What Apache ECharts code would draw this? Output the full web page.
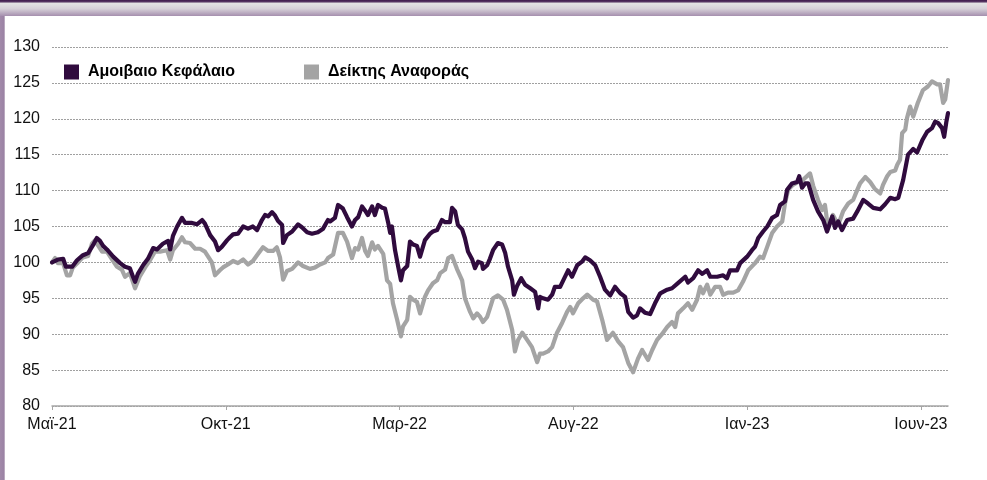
<!DOCTYPE html>
<html>
<head>
<meta charset="utf-8">
<script src="https://cdn.jsdelivr.net/npm/echarts@6/dist/echarts.min.js"></script>
<style>
html,body{margin:0;padding:0;background:#fff;}
#chart{width:987px;height:480px;}
</style>
</head>
<body>
<div id="chart"></div>
<script>
// x values: months elapsed since start of May 2021
const tickLabels = ['Μαϊ-21','Οκτ-21','Μαρ-22','Αυγ-22','Ιαν-23','Ιουν-23'];
const fundName = 'Αμοιβαιο Κεφάλαιο';
const benchName = 'Δείκτης Αναφοράς';

const fundT = [0.00,0.17,0.32,0.40,0.58,0.72,0.89,1.04,1.18,1.29,1.38,1.47,1.58,1.76,1.96,2.10,2.24,2.33,2.39,2.47,2.62,2.76,2.91,3.02,3.19,3.34,3.40,3.48,3.60,3.74,3.83,4.03,4.17,4.32,4.40,4.55,4.69,4.78,4.89,5.04,5.12,5.21,5.35,5.50,5.64,5.78,5.90,6.04,6.13,6.22,6.33,6.42,6.50,6.62,6.65,6.76,6.91,7.08,7.19,7.34,7.48,7.65,7.80,7.94,8.00,8.14,8.23,8.37,8.49,8.63,8.72,8.81,8.92,9.01,9.09,9.21,9.29,9.38,9.50,9.58,9.67,9.73,9.78,9.87,9.96,10.04,10.10,10.22,10.30,10.39,10.50,10.59,10.73,10.88,10.96,11.08,11.22,11.31,11.45,11.51,11.60,11.68,11.80,11.88,11.97,12.09,12.17,12.26,12.37,12.40,12.52,12.60,12.69,12.83,12.95,13.04,13.12,13.24,13.29,13.38,13.50,13.61,13.76,13.90,13.99,14.04,14.13,14.27,14.39,14.47,14.62,14.71,14.85,14.96,15.11,15.25,15.34,15.48,15.63,15.77,15.91,16.06,16.20,16.35,16.49,16.58,16.72,16.83,16.92,17.06,17.21,17.35,17.50,17.70,17.84,18.01,18.22,18.30,18.45,18.59,18.71,18.85,18.94,19.14,19.31,19.42,19.51,19.71,19.80,20.00,20.14,20.23,20.32,20.46,20.58,20.72,20.86,20.95,21.09,21.15,21.29,21.44,21.50,21.58,21.67,21.76,21.90,22.04,22.19,22.30,22.45,22.53,22.62,22.73,22.88,23.05,23.17,23.34,23.48,23.63,23.83,23.97,24.12,24.26,24.35,24.49,24.63,24.78,24.89,25.04,25.18,25.32,25.41,25.50,25.61,25.67,25.73,25.78];
const fundV = [100.0,100.4,100.5,99.4,99.4,100.3,101.0,101.3,102.4,103.4,103.0,102.3,101.8,100.8,99.9,99.4,99.2,98.0,97.3,98.4,99.6,100.5,102.0,101.8,102.6,103.0,101.8,103.7,105.0,106.2,105.5,105.5,105.3,105.9,105.4,103.8,102.9,101.7,102.2,103.1,103.5,103.9,104.0,105.0,104.7,105.0,104.5,105.9,106.6,106.4,107.0,106.5,105.8,105.2,102.7,103.8,104.3,105.3,104.9,104.2,104.0,104.2,104.7,105.9,105.7,106.2,108.0,107.5,106.3,105.0,105.9,106.3,107.8,107.2,106.6,107.8,106.6,108.0,107.6,107.5,105.6,104.1,105.0,101.7,99.4,97.5,98.9,99.5,102.9,102.5,102.3,100.8,103.1,104.0,104.3,104.5,105.9,105.6,105.6,107.6,107.1,105.2,104.6,103.4,101.5,100.4,99.2,100.1,99.9,99.1,99.6,100.5,101.7,102.7,102.5,101.3,99.4,97.5,95.5,96.7,97.8,96.9,96.4,95.9,93.6,95.2,95.0,94.8,95.5,96.6,96.6,97.5,98.9,98.0,99.6,100.1,100.7,100.3,99.6,98.0,96.2,95.4,96.6,95.7,95.2,93.1,92.3,92.6,93.6,93.0,92.8,94.3,95.7,96.2,96.4,97.1,98.0,97.2,97.8,98.9,98.4,98.9,98.0,98.0,98.2,97.8,98.9,98.9,99.9,100.8,101.7,102.2,103.4,104.3,105.0,106.2,106.6,108.0,108.5,110.1,111.0,111.2,112.0,110.4,111.0,111.0,108.7,107.1,105.9,104.3,106.4,104.8,105.7,104.5,105.9,106.1,107.1,108.7,108.2,107.6,107.4,108.1,109.0,108.8,109.0,111.5,115.0,115.8,115.3,117.0,118.2,118.7,119.6,119.4,118.7,117.5,119.5,120.8];

const benchT = [0.00,0.09,0.17,0.32,0.43,0.52,0.60,0.75,0.89,1.04,1.15,1.24,1.32,1.44,1.58,1.73,1.87,2.01,2.10,2.24,2.39,2.53,2.68,2.82,2.96,3.11,3.31,3.40,3.48,3.63,3.74,3.83,3.97,4.12,4.26,4.40,4.60,4.69,4.83,4.92,5.06,5.21,5.35,5.50,5.64,5.78,5.93,6.07,6.22,6.36,6.47,6.56,6.65,6.76,6.91,7.08,7.22,7.42,7.57,7.71,7.86,7.94,8.09,8.23,8.37,8.49,8.63,8.72,8.81,8.92,9.01,9.09,9.21,9.29,9.38,9.53,9.64,9.73,9.81,9.93,10.04,10.10,10.22,10.30,10.39,10.50,10.59,10.73,10.82,10.96,11.08,11.17,11.31,11.40,11.51,11.65,11.80,11.88,12.03,12.12,12.23,12.32,12.40,12.52,12.60,12.69,12.83,12.98,13.09,13.24,13.32,13.41,13.53,13.67,13.81,13.96,14.04,14.13,14.27,14.39,14.53,14.68,14.82,14.91,14.99,15.14,15.28,15.40,15.57,15.68,15.83,15.97,16.14,16.29,16.43,16.58,16.72,16.86,16.98,17.15,17.27,17.41,17.55,17.70,17.84,17.93,18.01,18.16,18.30,18.42,18.56,18.65,18.73,18.85,18.94,19.08,19.22,19.31,19.45,19.60,19.74,19.88,20.03,20.23,20.37,20.46,20.58,20.72,20.86,21.01,21.09,21.18,21.32,21.47,21.61,21.81,21.90,22.04,22.16,22.24,22.33,22.47,22.62,22.76,22.91,23.05,23.17,23.25,23.40,23.54,23.68,23.83,23.91,24.03,24.12,24.26,24.32,24.40,24.46,24.55,24.60,24.69,24.78,24.91,25.06,25.20,25.32,25.47,25.55,25.64,25.70,25.78];
const benchV = [100.0,100.6,99.9,99.9,98.2,98.2,99.3,100.0,100.7,100.9,102.6,103.1,102.4,101.5,101.5,100.4,99.4,99.0,98.0,98.5,96.4,98.1,99.3,100.3,101.5,101.5,101.7,100.4,101.7,102.6,103.5,102.8,102.7,101.9,101.9,101.5,100.0,98.2,98.9,99.3,99.7,100.2,99.9,100.4,99.7,100.2,101.2,102.1,101.6,101.6,102.1,100.7,97.6,98.8,99.1,100.0,99.5,99.1,99.3,99.7,100.0,100.6,101.1,104.1,104.1,102.9,100.6,102.0,101.8,103.4,101.6,100.9,102.8,101.8,102.3,101.2,97.5,97.0,94.3,92.0,89.7,91.1,92.0,95.2,94.8,94.5,92.9,95.2,96.1,97.1,97.5,98.5,99.0,100.6,100.9,99.1,97.5,95.0,93.1,92.2,92.9,92.4,91.7,92.4,93.6,95.0,95.4,94.8,93.4,90.6,87.6,89.2,90.2,89.2,88.2,86.1,87.3,87.3,87.6,88.2,90.2,91.6,93.1,93.8,92.9,94.3,95.0,95.5,94.8,94.6,92.0,89.2,90.2,89.0,88.2,86.0,84.7,86.6,87.8,86.4,87.8,89.2,90.0,91.0,91.7,91.0,92.9,93.6,94.3,93.4,94.8,96.6,95.7,96.9,95.5,96.6,96.6,95.5,95.8,95.8,96.1,97.3,98.9,99.9,100.8,100.6,102.2,104.1,105.0,105.7,108.2,110.1,110.8,111.2,111.5,112.4,110.7,108.7,107.3,108.0,104.8,106.6,105.2,107.1,108.2,108.7,110.1,111.0,111.9,111.2,110.2,109.6,110.8,112.0,112.6,112.8,113.6,114.3,118.0,118.5,120.1,121.7,120.3,122.2,124.0,124.5,125.2,124.8,124.8,122.2,122.7,125.4];

const xMax = 25.78;
const yMin = 80, yMax = 130, yStep = 5;

const fundColor = '#300B3E';
const benchColor = '#A4A4A4';
const font = '"Liberation Sans", Arial, sans-serif';

const zip = (t, v) => t.map((x, i) => [x, v[i]]);

const chart = echarts.init(document.getElementById('chart'), null, {renderer: 'canvas'});
const tickVals = tickLabels.map((_, i) => i * 5);

chart.setOption({
  animation: false,
  backgroundColor: '#ffffff',
  textStyle: {fontFamily: font},
  grid: {left: 52, right: 39, top: 47, bottom: 74},
  legend: [
    {
      data: [fundName], left: 59, top: 59, icon: 'rect', itemWidth: 15, itemHeight: 15,
      textStyle: {fontSize: 16, fontWeight: 'bold', color: '#000', fontFamily: font, padding: [0,0,0,4]}
    },
    {
      data: [benchName], left: 299, top: 59, icon: 'rect', itemWidth: 15, itemHeight: 15,
      textStyle: {fontSize: 16, fontWeight: 'bold', color: '#000', fontFamily: font, padding: [0,0,0,4]}
    }
  ],
  xAxis: {
    type: 'value', min: 0, max: xMax,
    axisLine: {show: true, lineStyle: {color: '#A6A6A6', width: 1.5}},
    axisTick: {show: true, customValues: tickVals, length: 4, lineStyle: {color: '#A6A6A6'}},
    axisLabel: {
      customValues: tickVals, margin: 11, fontSize: 16, color: '#111', fontFamily: font,
      formatter: v => tickLabels[Math.round(v / 5)] || ''
    },
    splitLine: {show: false}
  },
  yAxis: {
    type: 'value', min: yMin, max: yMax, interval: yStep,
    axisLine: {show: false}, axisTick: {show: false},
    axisLabel: {margin: 12, fontSize: 16, color: '#111', fontFamily: font},
    splitLine: {show: true, lineStyle: {color: '#A0A0A0', type: [2, 1], width: 1}}
  },
  series: [
    {
      name: benchName, type: 'line', data: zip(benchT, benchV), showSymbol: false, z: 2,
      color: benchColor, lineStyle: {width: 4.2, color: benchColor, join: 'round', cap: 'round'}
    },
    {
      name: fundName, type: 'line', data: zip(fundT, fundV), showSymbol: false, z: 3,
      color: fundColor, lineStyle: {width: 4.2, color: fundColor, join: 'round', cap: 'round'}
    }
  ],
  graphic: [
    {type: 'rect', left: 0, top: 0, z: 100, shape: {width: 987, height: 16},
      style: {fill: new echarts.graphic.LinearGradient(0, 0, 0, 1, [
        {offset: 0, color: '#3E1A4C'}, {offset: 0.12, color: '#5A3A66'},
        {offset: 0.2, color: '#E4E4E4'}, {offset: 0.55, color: '#D6D0D8'},
        {offset: 1, color: '#A58FAE'}])}},
    {type: 'rect', left: 0, top: 16, z: 100, shape: {width: 5, height: 464},
      style: {fill: new echarts.graphic.LinearGradient(0, 0, 1, 0, [
        {offset: 0, color: '#A28AAA'}, {offset: 0.7, color: '#9C84A5'}, {offset: 1, color: '#C9BCCD'}])}}
  ]
});
</script>
</body>
</html>
